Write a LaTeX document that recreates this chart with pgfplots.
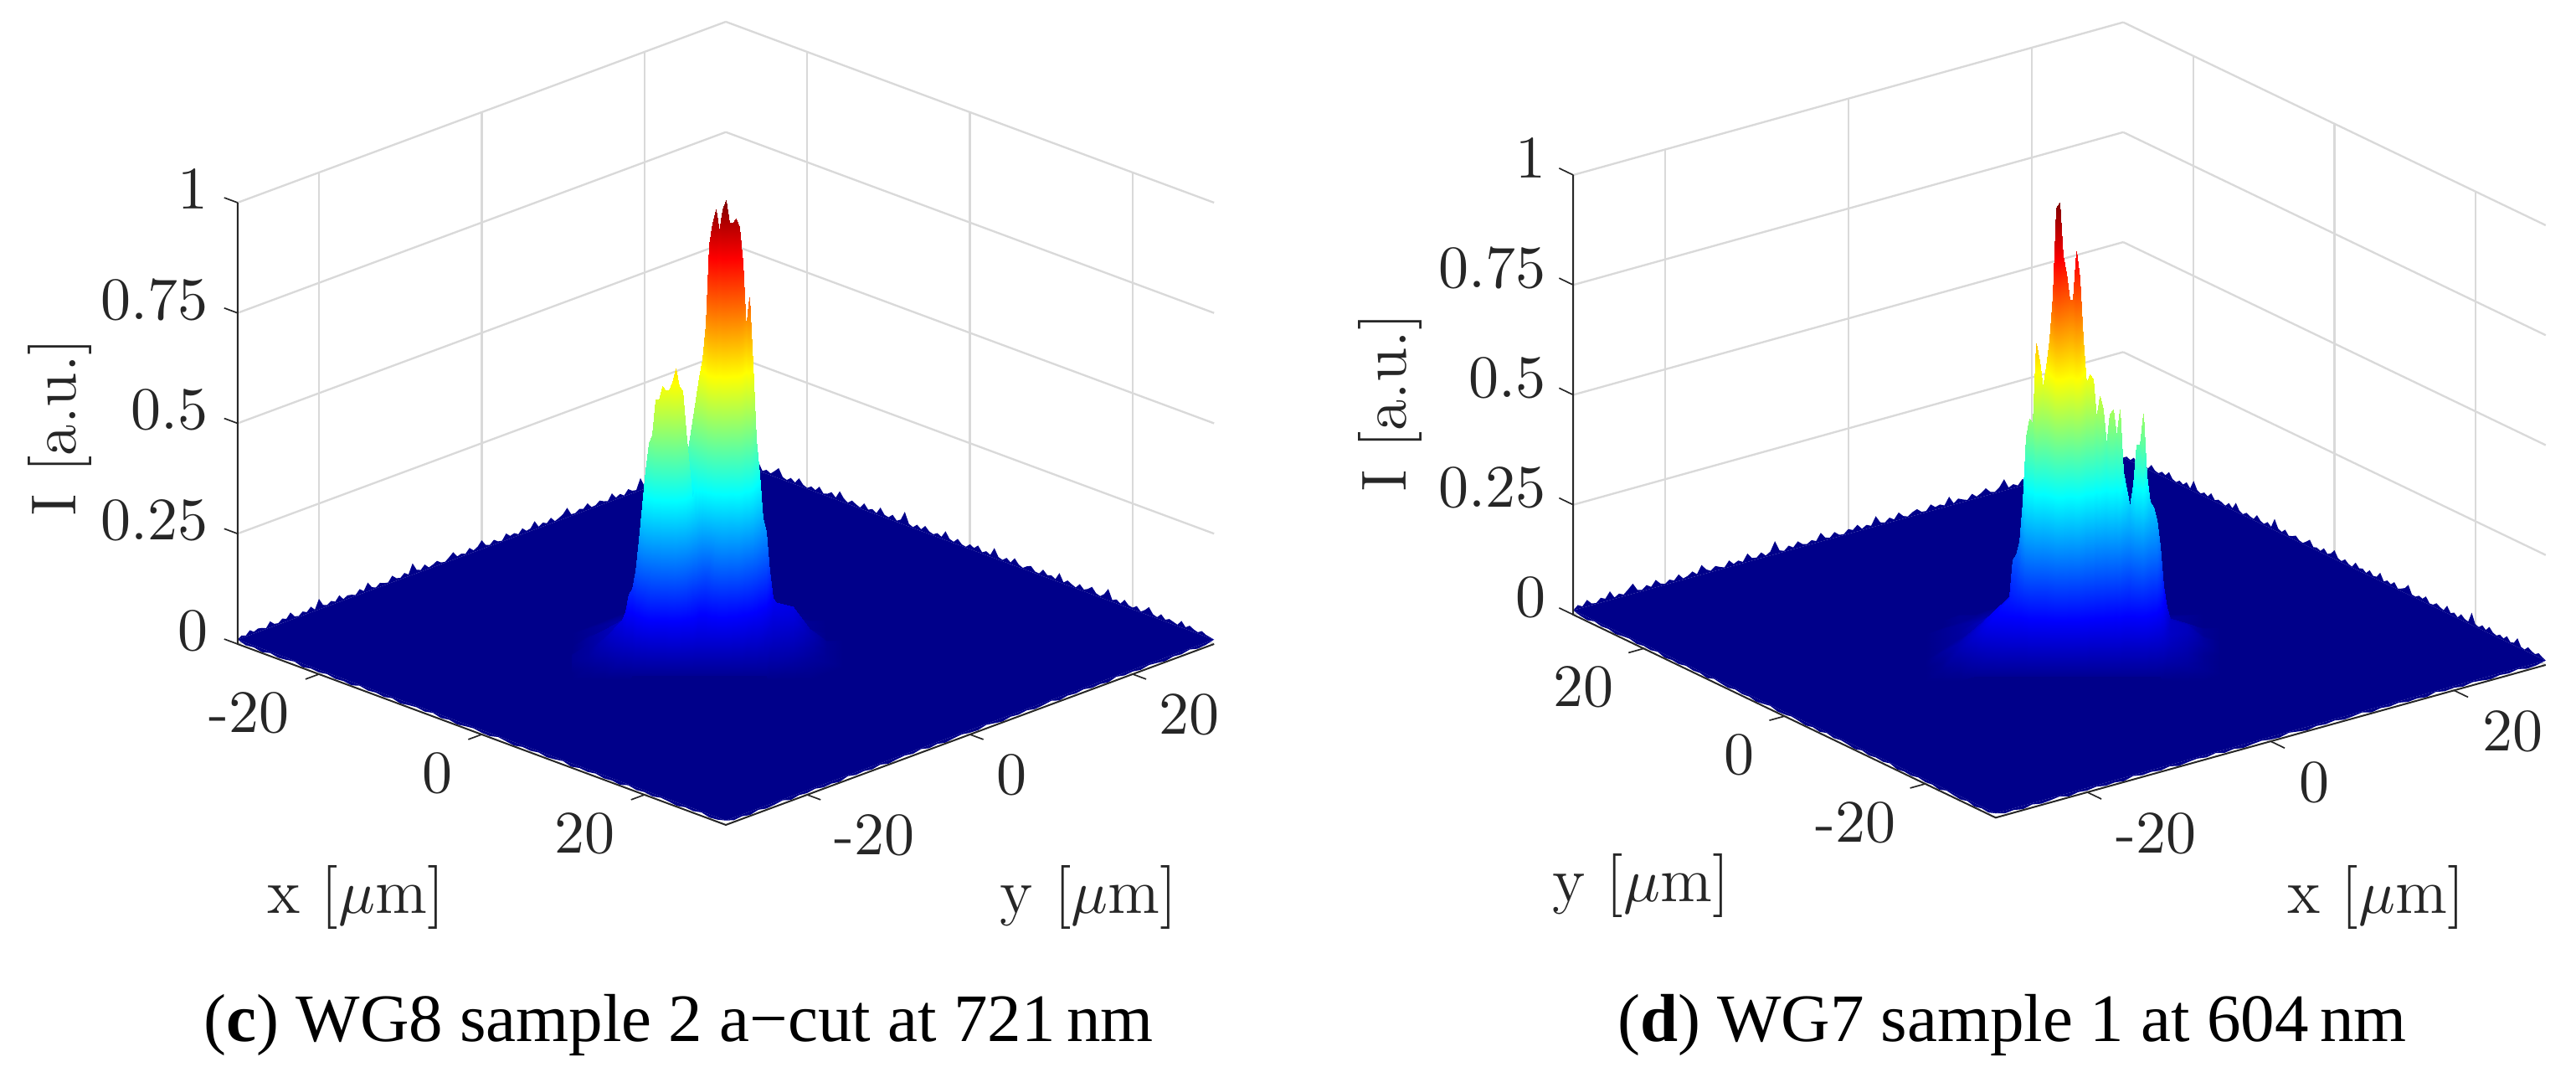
\documentclass[border=0pt]{standalone}
\usepackage{fontspec}
\usepackage{pgfplots}
\usepackage{pgfplotstable}
\pgfplotsset{compat=1.18}
\newfontfamily\capfont{Liberation Serif}
\definecolor{floorblue}{RGB}{0,0,138}

% back rims (every 0.5 um), front rim (every 1 um)
\pgfplotstableread[row sep=\\,header=false]{
.01\\.016\\.012\\.021\\.014\\.018\\.016\\.012\\.024\\.015\\
.013\\.02\\.016\\.027\\.015\\.012\\.019\\.014\\.023\\.013\\
.034\\.017\\.013\\.019\\.014\\.025\\.013\\.018\\.016\\.012\\
.022\\.014\\.03\\.016\\.012\\.019\\.015\\.013\\.025\\.016\\
.013\\.021\\.014\\.036\\.018\\.014\\.023\\.013\\.016\\.021\\
.014\\.012\\.019\\.027\\.014\\.017\\.013\\.023\\.014\\.019\\
.03\\.016\\.013\\.021\\.014\\.012\\.025\\.016\\.019\\.013\\
.023\\.014\\.016\\.029\\.013\\.019\\.014\\.023\\.012\\.016\\
.021\\.032\\.014\\.013\\.019\\.016\\.025\\.013\\.014\\.021\\
.016\\.013\\.027\\.014\\.019\\.012\\.023\\.016\\.014\\.038\\
.016\\.013\\.021\\.014\\.025\\.016\\.013\\.019\\.014\\.023\\
.013\\.016\\.03\\.014\\.012\\.021\\.016\\.013\\.019\\.014\\.01\\
}\rimA
\pgfplotstableread[row sep=\\,header=false]{
.01\\.019\\.013\\.025\\.014\\.012\\.021\\.016\\.03\\.013\\
.019\\.014\\.023\\.033\\.016\\.013\\.021\\.014\\.027\\.016\\
.012\\.019\\.014\\.025\\.013\\.016\\.023\\.014\\.032\\.019\\
.013\\.021\\.016\\.012\\.025\\.014\\.019\\.013\\.029\\.016\\
.014\\.023\\.013\\.019\\.04\\.016\\.012\\.021\\.014\\.025\\
.016\\.013\\.019\\.014\\.03\\.016\\.013\\.023\\.014\\.012\\
.021\\.016\\.025\\.013\\.019\\.014\\.033\\.016\\.013\\.021\\
.014\\.027\\.016\\.012\\.019\\.023\\.014\\.013\\.025\\.016\\
.019\\.014\\.031\\.013\\.021\\.016\\.012\\.023\\.014\\.019\\
.027\\.016\\.013\\.021\\.036\\.014\\.019\\.013\\.025\\.016\\
.014\\.021\\.012\\.019\\.029\\.016\\.013\\.023\\.014\\.019\\
.016\\.013\\.025\\.014\\.021\\.016\\.013\\.019\\.014\\.012\\.01\\
}\rimB
\pgfplotstableread[row sep=\\,header=false]{
.01\\.004\\.006\\.002\\.007\\.003\\.005\\.008\\.002\\.006\\
.004\\.007\\.003\\.005\\.002\\.008\\.004\\.006\\.003\\.007\\
.002\\.005\\.007\\.004\\.008\\.003\\.006\\.002\\.005\\.007\\
.004\\.003\\.008\\.005\\.002\\.006\\.004\\.007\\.003\\.005\\
.008\\.002\\.006\\.004\\.007\\.003\\.005\\.002\\.008\\.004\\
.006\\.003\\.007\\.005\\.002\\.006\\.004\\.008\\.003\\.005\\.01\\
}\rimF

% WG8 intensity, 11 depth rows of 54 columns
\pgfplotstableread[row sep=\\,header=false]{
.01\\.01\\.01\\.01\\ .01\\.01\\.01\\.02\\.01\\.02\\.01\\.02\\.02\\.02\\ .02\\.02\\.02\\.02\\.02\\.02\\.02\\.02\\.02\\.02\\ .02\\.02\\.02\\.02\\.02\\.02\\.02\\.02\\.02\\.02\\ .02\\.02\\.02\\.02\\.02\\.02\\.02\\.02\\.02\\.02\\ .02\\.02\\.02\\.01\\.02\\.01\\ .01\\.01\\.01\\.01\\
.01\\.01\\.01\\.02\\ .02\\.02\\.02\\.02\\.03\\.03\\.03\\.03\\.03\\.03\\ .03\\.03\\.03\\.03\\.04\\.03\\.04\\.04\\.04\\.04\\ .04\\.04\\.04\\.04\\.05\\.05\\.05\\.05\\.05\\.05\\ .05\\.05\\.05\\.05\\.05\\.05\\.04\\.04\\.04\\.04\\ .04\\.04\\.03\\.03\\.03\\.03\\ .02\\.01\\.01\\.01\\
.01\\.01\\.02\\.03\\ .03\\.03\\.04\\.04\\.04\\.04\\.05\\.04\\.05\\.05\\ .05\\.05\\.05\\.05\\.06\\.05\\.06\\.06\\.06\\.06\\ .07\\.07\\.07\\.08\\.08\\.09\\.10\\.10\\.10\\.11\\ .11\\.11\\.10\\.10\\.10\\.09\\.08\\.07\\.07\\.06\\ .05\\.05\\.05\\.04\\.04\\.04\\ .03\\.02\\.01\\.01\\
.01\\.02\\.03\\.04\\ .04\\.05\\.05\\.06\\.06\\.06\\.07\\.07\\.07\\.08\\ .08\\.08\\.09\\.09\\.09\\.10\\.10\\.11\\.13\\.15\\ .17\\.20\\.22\\.24\\.27\\.30\\.30\\.30\\.31\\.30\\ .31\\.31\\.30\\.30\\.28\\.26\\.22\\.20\\.18\\.14\\ .11\\.09\\.08\\.07\\.06\\.06\\ .04\\.02\\.01\\.01\\
.01\\.02\\.03\\.05\\ .05\\.06\\.06\\.07\\.08\\.08\\.09\\.09\\.10\\.10\\ .11\\.11\\.12\\.12\\.13\\.14\\.15\\.17\\.20\\.25\\ .30\\.36\\.40\\.45\\.52\\.62\\.66\\.68\\.66\\.68\\ .70\\.68\\.67\\.68\\.66\\.60\\.50\\.52\\.44\\.33\\ .27\\.20\\.17\\.12\\.09\\.08\\ .06\\.03\\.01\\.01\\
.01\\.03\\.05\\.07\\ .07\\.08\\.09\\.10\\.11\\.13\\.14\\.15\\.16\\.17\\ .18\\.19\\.20\\.21\\.23\\.26\\.30\\.36\\.42\\.47\\ .52\\.57\\.62\\.66\\.74\\.92\\.97\\1\\.95\\1\\ 1.02\\.97\\.97\\.98\\.96\\.88\\.73\\.80\\.65\\.48\\ .40\\.30\\.27\\.18\\.12\\.11\\ .10\\.05\\.02\\.01\\
.01\\.03\\.05\\.08\\ .09\\.10\\.11\\.13\\.15\\.19\\.24\\.29\\.30\\.34\\ .35\\.36\\.36\\.36\\.37\\.38\\.37\\.36\\.34\\.33\\ .36\\.40\\.44\\.47\\.52\\.62\\.66\\.68\\.66\\.68\\ .70\\.67\\.66\\.66\\.65\\.58\\.48\\.50\\.40\\.30\\ .25\\.20\\.18\\.13\\.10\\.10\\ .09\\.05\\.02\\.01\\
.02\\.03\\.06\\.10\\ .12\\.16\\.17\\.21\\.28\\.36\\.44\\.50\\.52\\.60\\ .60\\.63\\.62\\.62\\.64\\.67\\.63\\.62\\.53\\.45\\ .37\\.31\\.26\\.22\\.20\\.22\\.26\\.30\\.32\\.33\\ .33\\.32\\.32\\.31\\.31\\.27\\.23\\.22\\.19\\.16\\ .14\\.12\\.11\\.09\\.08\\.08\\ .07\\.04\\.02\\.01\\
.02\\.03\\.05\\.08\\ .09\\.10\\.10\\.12\\.14\\.16\\.19\\.22\\.24\\.26\\ .28\\.30\\.30\\.30\\.30\\.31\\.29\\.27\\.24\\.20\\ .17\\.15\\.13\\.13\\.13\\.14\\.15\\.15\\.16\\.16\\ .16\\.15\\.15\\.15\\.14\\.13\\.12\\.11\\.10\\.10\\ .09\\.08\\.07\\.07\\.06\\.06\\ .05\\.03\\.02\\.01\\
.01\\.02\\.03\\.05\\ .05\\.06\\.06\\.07\\.07\\.08\\.08\\.09\\.09\\.10\\ .10\\.10\\.10\\.11\\.11\\.11\\.11\\.10\\.10\\.09\\ .09\\.08\\.08\\.08\\.08\\.08\\.08\\.08\\.08\\.08\\ .08\\.08\\.07\\.07\\.07\\.07\\.06\\.06\\.06\\.06\\ .05\\.05\\.05\\.04\\.04\\.04\\ .03\\.02\\.01\\.01\\
.01\\.01\\.01\\.01\\ .01\\.01\\.02\\.02\\.02\\.02\\.02\\.02\\.02\\.02\\ .02\\.02\\.02\\.02\\.02\\.02\\.02\\.02\\.02\\.02\\ .02\\.02\\.02\\.02\\.02\\.02\\.02\\.02\\.02\\.02\\ .02\\.02\\.02\\.02\\.02\\.02\\.02\\.02\\.02\\.02\\ .02\\.02\\.02\\.01\\.01\\.01\\ .01\\.01\\.01\\.01\\
}\wgc

% WG7 intensity, 11 depth rows of 57 columns
\pgfplotstableread[row sep=\\,header=false]{
.01\\.01\\.01\\.01\\.02\\.02\\ .02\\.02\\.02\\.02\\.02\\.02\\.02\\.02\\.02\\.02\\ .02\\.02\\.02\\.02\\.02\\.02\\.02\\.02\\.02\\.02\\ .02\\.02\\.02\\.02\\.02\\.02\\.02\\.02\\.02\\.02\\ .02\\.02\\.02\\.02\\.02\\.02\\.02\\.02\\.02\\.02\\ .02\\.02\\.02\\.01\\.01\\.01\\.01\\.01\\ .01\\.01\\.01\\
.01\\.01\\.02\\.02\\.03\\.03\\ .04\\.04\\.04\\.04\\.05\\.05\\.05\\.05\\.05\\.05\\ .05\\.05\\.05\\.06\\.06\\.06\\.06\\.06\\.06\\.05\\ .05\\.05\\.05\\.05\\.05\\.05\\.05\\.05\\.04\\.04\\ .04\\.04\\.04\\.04\\.04\\.04\\.04\\.04\\.04\\.04\\ .04\\.03\\.03\\.03\\.03\\.02\\.02\\.02\\ .02\\.01\\.01\\
.01\\.01\\.02\\.03\\.04\\.05\\ .06\\.06\\.07\\.08\\.09\\.10\\.10\\.12\\.12\\.11\\ .12\\.13\\.14\\.16\\.17\\.16\\.15\\.14\\.14\\.15\\ .14\\.12\\.11\\.11\\.11\\.10\\.10\\.10\\.09\\.10\\ .10\\.09\\.10\\.08\\.07\\.07\\.08\\.09\\.09\\.10\\ .08\\.07\\.06\\.06\\.05\\.04\\.03\\.03\\ .02\\.01\\.01\\
.01\\.02\\.03\\.04\\.05\\.07\\ .10\\.11\\.12\\.15\\.20\\.22\\.22\\.28\\.28\\.26\\ .28\\.30\\.34\\.42\\.44\\.40\\.38\\.35\\.35\\.38\\ .36\\.30\\.26\\.27\\.27\\.23\\.25\\.24\\.20\\.23\\ .23\\.21\\.23\\.18\\.16\\.14\\.17\\.20\\.20\\.23\\ .18\\.15\\.14\\.13\\.10\\.07\\.05\\.04\\ .03\\.02\\.01\\
.01\\.02\\.03\\.05\\.07\\.10\\ .15\\.16\\.18\\.24\\.34\\.38\\.38\\.48\\.48\\.45\\ .48\\.52\\.60\\.74\\.76\\.68\\.65\\.60\\.60\\.68\\ .64\\.53\\.46\\.47\\.47\\.40\\.43\\.41\\.35\\.40\\ .41\\.36\\.41\\.30\\.27\\.24\\.28\\.35\\.35\\.40\\ .30\\.25\\.24\\.22\\.18\\.11\\.08\\.06\\ .05\\.02\\.01\\
.01\\.02\\.03\\.05\\.09\\.12\\ .21\\.22\\.25\\.34\\.49\\.53\\.52\\.70\\.66\\.60\\ .65\\.71\\.81\\1.01\\1.02\\.90\\.86\\.80\\.80\\.91\\ .85\\.71\\.61\\.63\\.62\\.53\\.58\\.55\\.47\\.54\\ .55\\.49\\.55\\.41\\.37\\.33\\.38\\.47\\.47\\.54\\ .40\\.34\\.33\\.30\\.24\\.15\\.10\\.07\\ .06\\.03\\.01\\
.01\\.02\\.04\\.07\\.10\\.14\\ .18\\.19\\.22\\.28\\.38\\.42\\.42\\.52\\.50\\.48\\ .50\\.54\\.60\\.72\\.74\\.68\\.66\\.62\\.62\\.68\\ .64\\.55\\.48\\.48\\.48\\.42\\.45\\.42\\.38\\.42\\ .42\\.38\\.42\\.34\\.31\\.29\\.32\\.38\\.38\\.42\\ .32\\.28\\.27\\.25\\.19\\.13\\.09\\.07\\ .06\\.03\\.01\\
.01\\.03\\.05\\.08\\.12\\.15\\ .16\\.17\\.19\\.22\\.27\\.28\\.29\\.32\\.32\\.31\\ .32\\.33\\.36\\.40\\.42\\.40\\.38\\.36\\.36\\.39\\ .37\\.33\\.29\\.29\\.29\\.26\\.27\\.26\\.24\\.26\\ .26\\.24\\.25\\.22\\.20\\.19\\.21\\.23\\.24\\.25\\ .21\\.19\\.18\\.17\\.14\\.11\\.08\\.07\\ .05\\.02\\.01\\
.01\\.02\\.05\\.08\\.12\\.13\\ .13\\.14\\.14\\.15\\.16\\.17\\.17\\.18\\.18\\.18\\ .18\\.19\\.20\\.21\\.22\\.22\\.21\\.20\\.20\\.20\\ .20\\.19\\.18\\.17\\.17\\.16\\.16\\.16\\.15\\.15\\ .15\\.14\\.15\\.14\\.13\\.13\\.13\\.14\\.14\\.14\\ .13\\.12\\.11\\.10\\.09\\.08\\.07\\.06\\ .04\\.02\\.01\\
.01\\.02\\.03\\.05\\.07\\.08\\ .08\\.08\\.08\\.08\\.08\\.09\\.09\\.09\\.09\\.09\\ .09\\.09\\.10\\.10\\.10\\.10\\.10\\.10\\.10\\.09\\ .09\\.09\\.09\\.08\\.08\\.08\\.08\\.08\\.08\\.08\\ .08\\.08\\.08\\.07\\.07\\.07\\.07\\.07\\.07\\.07\\ .07\\.06\\.06\\.06\\.05\\.05\\.04\\.04\\ .03\\.02\\.01\\
.01\\.01\\.01\\.02\\.02\\.02\\ .02\\.02\\.02\\.02\\.02\\.02\\.02\\.02\\.02\\.02\\ .02\\.02\\.02\\.02\\.02\\.02\\.02\\.02\\.02\\.02\\ .02\\.02\\.02\\.02\\.02\\.02\\.02\\.02\\.02\\.02\\ .02\\.02\\.02\\.02\\.02\\.02\\.02\\.02\\.02\\.02\\ .02\\.02\\.02\\.02\\.02\\.01\\.01\\.01\\ .01\\.01\\.01\\
}\wgd

\pgfplotsset{
  beam/.style={
    colormap/jet, clip=false, anchor=origin,
    xmin=-30, xmax=30, ymin=-30, ymax=30, zmin=0, zmax=1,
    xtick={-20,0,20}, ytick={-20,0,20}, ztick={0,0.25,0.5,0.75,1},
    xticklabels={-20,0,20}, yticklabels={-20,0,20}, zticklabels={0,0.25,0.5,0.75,1},
    grid=major, grid style={black!15, line width=0.35pt},
    axis line style={draw=none},
    tick pos=left,
    tick align=outside, tickwidth=2.6pt, tick style={draw=none},
    tick label style={font=\fontsize{10.8}{12}\selectfont, text=black!85, inner sep=0pt, outer sep=0pt},
    point meta min=0, point meta max=1.02,
  },
  rim/.style={fill=floorblue, draw=none, forget plot},
  peak/.style={surf, shader=interp, z buffer=none, forget plot},
  edgeline/.style={black!85, line width=0.3pt, forget plot},
  tickline/.style={black!85, line width=0.25pt, forget plot},
}
\tikzset{lab/.style={font=\fontsize{11.4}{13}\selectfont, text=black!85, inner sep=0pt},
  capt/.style={font=\capfont\fontsize{12.15}{14}\selectfont, inner sep=0pt, anchor=base}}

\begin{document}
\begin{tikzpicture}
\path[use as bounding box] (0,0) rectangle (461.55pt,192pt);

\begin{axis}[beam, at={(130.05pt,76.65pt)},
    x={(1.458pt,-0.54pt)}, y={(1.458pt,0.54pt)}, z={(0pt,79.05pt)},
    xticklabel style={anchor=east, xshift=-2.85pt, yshift=-6.1pt},
    yticklabel style={anchor=west, xshift=2.35pt, yshift=-6.3pt},
    zticklabel style={anchor=east, xshift=-2.85pt, yshift=3.3pt},
    declare function={rw(\i)=floor((\i+0.5)/54); cl(\i)=\i-54*rw(\i);
      pp(\i)=-184+20*min(cl(\i),3)+4*max(0,min(cl(\i),49)-3)+20*max(0,cl(\i)-49);
      rr(\i)=32-8*rw(\i);}]
\addplot3[rim] coordinates {(-30,-30,.01)(-30,30,.01)(30,30,.01)(30,-30,.01)};
\addplot3[rim] table[x index=0, y index=0, x expr=-30, y expr=-30+0.5*\coordindex, z index=0] {\rimA};
\addplot3[rim] table[x index=0, y index=0, x expr=-30+0.5*\coordindex, y expr=30, z index=0] {\rimB};
\addplot3[rim] table[x index=0, y index=0, x expr=-30+\coordindex, y expr=-30, z index=0] {\rimF};
\addplot3[rim] table[x index=0, y index=0, x expr=30, y expr=-30+\coordindex, z index=0] {\rimF};
\addplot3[peak, mesh/cols=54] table[x index=0, y index=0, x expr=pp(\coordindex)/19.44-rr(\coordindex)/7.2,
    y expr=pp(\coordindex)/19.44+rr(\coordindex)/7.2, z index=0] {\wgc};
\addplot3[edgeline] coordinates {(-30,-30,1)(-30,-30,0)(30,-30,0)(30,30,0)};
\pgfplotsinvokeforeach{-20,0,20}{
  \addplot3[tickline] coordinates {(#1,-30,0)(#1,-31.65,0)};
  \addplot3[tickline] coordinates {(30,#1,0)(31.65,#1,0)};
}
\pgfplotsinvokeforeach{0,0.25,0.5,0.75,1}{
  \addplot3[tickline] coordinates {(-30,-30,#1)(-31.65,-30,#1)};
}
\end{axis}

\begin{axis}[beam, at={(369pt,77.4pt)},
    x={(1.6425pt,0.456pt)}, y={(-1.2615pt,0.606pt)}, z={(0pt,78.75pt)},
    xticklabel style={anchor=west, xshift=2.85pt, yshift=-6.25pt},
    yticklabel style={anchor=east, xshift=-2.85pt, yshift=-6.2pt},
    zticklabel style={anchor=east, xshift=-2.5pt, yshift=1.9pt},
    declare function={rw(\i)=floor((\i+0.5)/57); cl(\i)=\i-57*rw(\i);
      pp(\i)=-160+20*min(cl(\i),5)+4*max(0,min(cl(\i),53)-5)+20*max(0,cl(\i)-53);
      rr(\i)=26-8*rw(\i);}]
\addplot3[rim] coordinates {(-30,-30,.01)(-30,30,.01)(30,30,.01)(30,-30,.01)};
\addplot3[rim] table[x index=0, y index=0, x expr=-30+0.5*\coordindex, y expr=30, z index=0] {\rimB};
\addplot3[rim] table[x index=0, y index=0, x expr=30, y expr=30-0.5*\coordindex, z index=0] {\rimA};
\addplot3[rim] table[x index=0, y index=0, x expr=-30, y expr=-30+\coordindex, z index=0] {\rimF};
\addplot3[rim] table[x index=0, y index=0, x expr=-30+\coordindex, y expr=-30, z index=0] {\rimF};
\addplot3[peak, mesh/cols=57] table[x index=0, y index=0, x expr=0.0579*pp(\coordindex)+0.1205*rr(\coordindex),
    y expr=-0.04355*pp(\coordindex)+0.1569*rr(\coordindex), z index=0] {\wgd};
\addplot3[edgeline] coordinates {(-30,30,1)(-30,30,0)(-30,-30,0)(30,-30,0)};
\pgfplotsinvokeforeach{-20,0,20}{
  \addplot3[tickline] coordinates {(#1,-30,0)(#1,-32,0)};
  \addplot3[tickline] coordinates {(-30,#1,0)(-31.65,#1,0)};
}
\pgfplotsinvokeforeach{0,0.25,0.5,0.75,1}{
  \addplot3[tickline] coordinates {(-30,30,#1)(-30,32,#1)};
}
\end{axis}

\node[lab] at (63.8pt,31.2pt) {x [$\mu$m]};
\node[lab] at (195.1pt,31.2pt) {y [$\mu$m]};
\node[lab, rotate=90] at (10.65pt,115.5pt) {I [a.u.]};
\node[lab] at (294pt,33.3pt) {y [$\mu$m]};
\node[lab] at (425.7pt,31.2pt) {x [$\mu$m]};
\node[lab, rotate=90] at (249pt,119.9pt) {I [a.u.]};
\node[capt] at (121.6pt,5.4pt) {({\bfseries c}) WG8 sample 2 a−cut at 721\,nm};
\node[capt] at (360.5pt,5.5pt) {({\bfseries d}) WG7 sample 1 at 604\,nm};
\end{tikzpicture}
\end{document}
